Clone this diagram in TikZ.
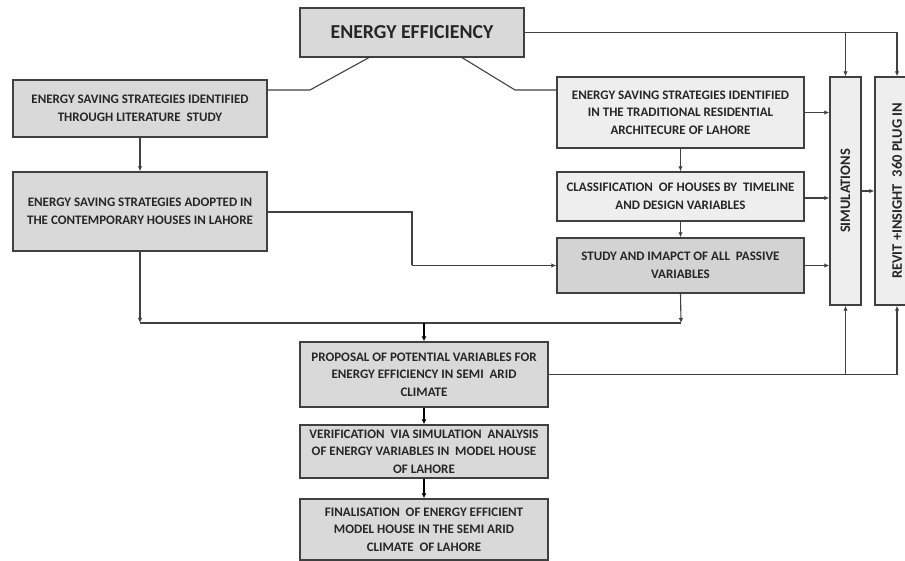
\documentclass[tikz,border=0pt]{standalone}
\usepackage{fontspec}
\setmainfont{Carlito}
\usetikzlibrary{arrows.meta,calc}
\definecolor{boxdark}{HTML}{D9D9D9}
\definecolor{boxlight}{HTML}{EEEEEE}
\definecolor{boxmid}{HTML}{D3D3D3}
\definecolor{linegray}{HTML}{404040}
\begin{document}
\begin{tikzpicture}[x=1pt,y=-1pt,
  txt/.style={font=\fontsize{13}{17.5}\selectfont\bfseries,text=black!85},
  vtxt/.style={font=\fontsize{14.5}{17.5}\selectfont\bfseries,text=black!85,rotate=90},
  box/.style={txt,draw=linegray,line width=1.4pt,inner sep=0pt,align=center},
  conn/.style={draw=linegray,line width=1.1pt},
  arr/.style={conn,-{Latex[length=5pt,width=4.5pt]}},
  barr/.style={draw=black,line width=1.8pt,-{Latex[length=5pt,width=5pt]}}]
\useasboundingbox (0,0) rectangle (905,561);
\node[box,fill=boxdark,minimum width=224,minimum height=49,font=\fontsize{19.8}{22}\selectfont\bfseries] (EE) at (412,32.5) {ENERGY EFFICIENCY};
\node[box,fill=boxdark,minimum width=254,minimum height=57] (A) at (140,108.5) {ENERGY SAVING STRATEGIES IDENTIFIED\\THROUGH LITERATURE\ \ STUDY};
\node[box,fill=boxlight,minimum width=247,minimum height=71] (B) at (680.5,112.5) {ENERGY SAVING STRATEGIES IDENTIFIED\\IN THE TRADITIONAL RESIDENTIAL\\ARCHITECURE OF LAHORE};
\node[box,fill=boxlight,minimum width=247,minimum height=49] (C) at (680.5,196.5) {CLASSIFICATION\ \ OF HOUSES BY\ \ TIMELINE\\AND DESIGN VARIABLES};
\node[box,fill=boxmid,minimum width=247,minimum height=55] (D) at (680.5,265.5) {STUDY AND IMAPCT OF ALL\ \ PASSIVE\\VARIABLES};
\node[box,fill=boxdark,minimum width=254,minimum height=79] (E) at (140,211.5) {ENERGY SAVING STRATEGIES ADOPTED IN\\THE CONTEMPORARY HOUSES IN LAHORE};
\node[box,fill=boxlight,minimum width=31,minimum height=228] (S) at (845.5,191) {};
\node[vtxt] (ST) at (S.center) {SIMULATIONS};
\node[box,fill=boxlight,minimum width=44,minimum height=228] (R) at (897,191) {};
\node[vtxt] (RT) at (R.center) {REVIT +INSIGHT\ \ 360 PLUG IN};
\node[box,fill=boxdark,minimum width=248,minimum height=65] (F) at (424,374.5) {PROPOSAL OF POTENTIAL VARIABLES FOR\\ENERGY EFFICIENCY IN SEMI\ \ ARID\\CLIMATE};
\node[box,fill=boxdark,minimum width=248,minimum height=53] (G) at (424,451.5) {VERIFICATION\ \ VIA SIMULATION\ \ ANALYSIS\\OF ENERGY VARIABLES IN\ \ MODEL HOUSE\\OF LAHORE};
\node[box,fill=boxdark,minimum width=248,minimum height=61] (H) at (424,529.5) {FINALISATION\ \ OF ENERGY EFFICIENT\\MODEL HOUSE IN THE SEMI ARID\\CLIMATE\ \ OF LAHORE};
% connectors from energy efficiency
\coordinate (eal) at (370,57);
\coordinate (ear) at (461,57);
\draw[conn] (eal) -- (310,90) -- (310,90 -| A.east);
\draw[conn] (ear) -- (515,90) -- (515,90 -| B.west);
\coordinate (ertop) at (897,32.5);
\draw[conn] (EE.east) -- (ertop);
\draw[arr] (ertop) -- (R.north);
\draw[arr] (S.north |- EE.east) -- (S.north);
% left column
\draw[arr] (A.south) -- (E.north);
\coordinate (jl) at (140,323);
\coordinate (jr) at (681,323);
\draw[arr] (E.south) -- (jl);
\draw[arr] (D.south) -- (jr);
\draw[conn] (jl) -- (jr);
\draw[barr] (F.north |- jl) -- (F.north);
\draw[conn] (E.east |- 0,212) -- (412,212) -- (412,265.5);
\draw[arr] (412,265.5) -- (D.west);
% right column
\draw[arr] (B.south) -- (C.north);
\draw[arr] (C.south) -- (D.north);
\draw[arr] (B.east) -- (B.east -| S.west);
\draw[arr] (C.east |- 0,198) -- (S.west |- 0,198);
\draw[arr] (D.east) -- (D.east -| S.west);
\draw[arr] (S.east) -- (R.west);
% feedback from proposal
\coordinate (frb) at (897,374.5);
\draw[conn] (F.east) -- (frb);
\draw[arr] (frb) -- (R.south);
\draw[arr] (S.south |- F.east) -- (S.south);
% bottom chain
\draw[barr] (F.south) -- (G.north);
\draw[barr] (G.south) -- (H.north);
\end{tikzpicture}
\end{document}
